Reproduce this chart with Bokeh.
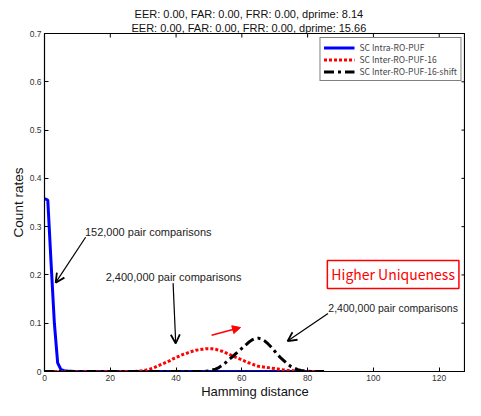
from bokeh.plotting import figure
from bokeh.models import (Range1d, FixedTicker, Title, Label, Arrow,
                          OpenHead, NormalHead, Legend, LegendItem)
from bokeh.embed import file_html
from bokeh.resources import INLINE

# ---------------- data ----------------
hd = list(range(0, 86))

intra = [0.358, 0.355, 0.225, 0.100, 0.018, 0.004, 0.0015, 0.0008, 0.0005] + [0.0] * 77

inter = ([0.0] * 28 +
         [0.0005, 0.001, 0.002, 0.003, 0.005, 0.007, 0.010, 0.013, 0.016, 0.019,   # 28-37
          0.022, 0.026, 0.029, 0.032, 0.035, 0.037, 0.040, 0.042, 0.044, 0.045,    # 38-47
          0.046, 0.047, 0.047, 0.047, 0.046, 0.044, 0.042, 0.039, 0.036, 0.033,    # 48-57
          0.030, 0.027, 0.024, 0.021, 0.018, 0.016, 0.013, 0.011, 0.010, 0.009,    # 58-67
          0.008, 0.007, 0.006, 0.005, 0.004, 0.003, 0.002, 0.002, 0.001, 0.001,    # 68-77
          0.0005, 0.0005, 0.0003, 0.0002, 0.0001, 0.0, 0.0, 0.0])                 # 78-85

inter_shift = ([0.0] * 49 +
               [0.0005, 0.001, 0.003, 0.005, 0.008, 0.013, 0.018, 0.024, 0.030, 0.036,  # 49-58
                0.042, 0.048, 0.054, 0.060, 0.065, 0.068, 0.069, 0.067, 0.063, 0.057,   # 59-68
                0.050, 0.042, 0.034, 0.027, 0.021, 0.015, 0.010, 0.007, 0.004, 0.002,   # 69-78
                0.001, 0.0005, 0.0, 0.0, 0.0, 0.0, 0.0])                                # 79-85

title_lines = ["EER:  0.00, FAR:  0.00, FRR:  0.00, dprime:  8.14",
               "EER:  0.00, FAR:  0.00, FRR:  0.00, dprime:  15.66"]
legend_labels = ["SC Intra-RO-PUF", "SC Inter-RO-PUF-16", "SC Inter-RO-PUF-16-shift"]
x_ticks = [0, 20, 40, 60, 80, 100, 120]
y_ticks = [0.0, 0.1, 0.2, 0.3, 0.4, 0.5, 0.6, 0.7]
y_tick_labels = ["0", "0.1", "0.2", "0.3", "0.4", "0.5", "0.6", "0.7"]
x_label = "Hamming distance"
y_label = "Count rates"

ann_intra = "152,000 pair comparisons"
ann_inter = "2,400,000 pair comparisons"
ann_shift = "2,400,000 pair comparisons"
ann_box = "Higher Uniqueness"

FONT = "Liberation Sans"
X_MAX, Y_MAX = 128, 0.7
FW, FH = 421, 338

# ---------------- figure ----------------
p = figure(frame_width=FW, frame_height=FH, output_backend="svg", toolbar_location=None,
           x_range=Range1d(0, X_MAX), y_range=Range1d(0, Y_MAX),
           min_border_left=44, min_border_right=0, min_border_top=33, min_border_bottom=29,
           background_fill_color="white", border_fill_color="white")
p.grid.visible = False
p.outline_line_color = "black"
p.outline_line_width = 1.2

for ax in (p.xaxis[0], p.yaxis[0]):
    ax.major_tick_in = 4
    ax.major_tick_out = 0
    ax.minor_tick_line_color = None
    ax.axis_line_color = "black"
    ax.major_tick_line_color = "black"
    ax.major_label_text_font = FONT
    ax.major_label_text_font_size = "8.5px"
    ax.major_label_text_color = "#333333"
    ax.axis_label_text_font = FONT
    ax.axis_label_text_font_style = "normal"
    ax.axis_label_text_color = "#111111"

p.xaxis[0].axis_label_text_font_size = "13px"
p.yaxis[0].axis_label_text_font_size = "13.5px"
p.xaxis[0].ticker = FixedTicker(ticks=x_ticks)
p.yaxis[0].ticker = FixedTicker(ticks=y_ticks)
p.yaxis[0].major_label_overrides = {t: s for t, s in zip(y_ticks, y_tick_labels)}
p.xaxis[0].axis_label = x_label
p.yaxis[0].axis_label = y_label
p.xaxis[0].major_label_standoff = 3
p.yaxis[0].major_label_standoff = 3
p.xaxis[0].axis_label_standoff = 0
p.yaxis[0].axis_label_standoff = 1

# mirrored inward ticks on top and right edges (4 px long)
tick_dx = 4 * X_MAX / FW
tick_dy = 4 * Y_MAX / FH
p.segment(x0=x_ticks, y0=[Y_MAX] * len(x_ticks), x1=x_ticks, y1=[Y_MAX - tick_dy] * len(x_ticks),
          line_color="black", line_width=1)
p.segment(x0=[X_MAX] * len(y_ticks), y0=y_ticks, x1=[X_MAX - tick_dx] * len(y_ticks), y1=y_ticks,
          line_color="black", line_width=1)

# two-line title (second line added first so it sits closer to the plot)
for line in reversed(title_lines):
    p.add_layout(Title(text=line, align="center", text_font=FONT, text_font_size="11px",
                       text_font_style="normal", text_color="#111111", standoff=0,
                       offset=6), "above")

# ---------------- curves ----------------
r1 = p.line(hd, intra, line_color="#0000ff", line_width=3)
r2 = p.line(hd, inter, line_color="#ff0000", line_width=3, line_dash="3 2")
r3 = p.line(hd, inter_shift, line_color="black", line_width=3, line_dash="10 4 3 4")

legend = Legend(items=[LegendItem(label=l, renderers=[r]) for l, r in zip(legend_labels, [r1, r2, r3])],
                location="top_right", margin=4, padding=3, spacing=0,
                label_text_font="Noto Sans CJK JP", label_text_font_size="8.5px",
                label_height=9, glyph_height=9, glyph_width=31, label_standoff=5,
                border_line_color="black", border_line_width=1.5,
                background_fill_color="white", background_fill_alpha=1)
p.add_layout(legend)

# ---------------- annotations ----------------
ANN = dict(text_font=FONT, text_font_size="11px", text_color="#222222",
           text_baseline="middle", text_align="left")
p.add_layout(Label(x=12.3, y=0.288, text=ann_intra, **ANN))
p.add_layout(Label(x=18.6, y=0.196, text=ann_inter, **ANN))
p.add_layout(Label(x=86.3, y=0.132, text=ann_shift, text_font=FONT, text_font_size="10.5px",
                   text_color="#222222", text_baseline="middle", text_align="left"))

p.add_layout(Arrow(x_start=12.5, y_start=0.278, x_end=3.4, y_end=0.184, line_width=1.2,
                   end=OpenHead(size=9, line_width=1.8, line_color="black")))
p.add_layout(Arrow(x_start=39.1, y_start=0.183, x_end=39.9, y_end=0.058, line_width=1.2,
                   end=OpenHead(size=9, line_width=1.8, line_color="black")))
p.add_layout(Arrow(x_start=86.2, y_start=0.12, x_end=73.9, y_end=0.063, line_width=1.2,
                   end=OpenHead(size=9, line_width=1.8, line_color="black")))
p.add_layout(Arrow(x_start=50.8, y_start=0.075, x_end=59.6, y_end=0.091, line_width=1.5,
                   line_color="#ff0000",
                   end=NormalHead(size=8, fill_color="#ff0000", line_color="#ff0000")))

p.add_layout(Label(x=86.0, y=0.201, text=ann_box, text_font="Noto Sans CJK JP",
                   text_font_size="14px", text_color="#ff0000", text_baseline="middle",
                   text_align="left", border_line_color="#ff0000", border_line_width=1.5,
                   background_fill_color="white", padding=4))

open("out.html", "w").write(file_html(p, INLINE))
